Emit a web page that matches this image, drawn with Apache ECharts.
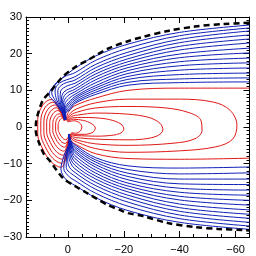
<!DOCTYPE html>
<html><head><meta charset="utf-8">
<script src="https://cdn.jsdelivr.net/npm/echarts@6/dist/echarts.min.js"></script>
<style>html,body{margin:0;padding:0;background:#fff}#c{width:256px;height:256px}</style>
</head><body><div id="c"></div>
<script>
// Axis tick labels
const xTickLabels = [0, -20, -40, -60];
const yTickLabels = [-30, -20, -10, 0, 10, 20, 30];

// Magnetopause (dashed black)
const magnetopause = [[-65,28.4],[-56,28.1],[-45.5,27.4],[-35.8,26.2],[-27,24.6],[-21.5,23.4],[-14.3,21.4],[-10.4,19.7],[-6.8,18.1],[-2.5,16.3],[2,13.6],[6.4,9.5],[8.9,7.4],[10.3,4.6],[11.4,1.4],[11.5,-1],[10.3,-4.4],[8.5,-7.5],[6.4,-9.3],[1.8,-13.9],[-2.5,-16.1],[-6.8,-18],[-10.4,-19.6],[-14.3,-21.3],[-18.6,-22.6],[-21.5,-23.5],[-26.9,-24.3],[-35.8,-26.2],[-45.5,-27.3],[-53.7,-27.8],[-62.7,-28.1],[-65,-28.2]];

// Open field lines, northern lobe (blue)
const northLobe = [
 [[1.3,2.0],[2.2,4.0],[5.0,7.0],[6.8,8.8],[4.8,11.5],[2,13.4],[-2.5,16.0],[-10,19.4],[-21.5,22.6],[-40,25.8],[-65,27.8]],
 [[1.25,2.0],[2.0,4.0],[4.5,7.2],[5.8,9.3],[4.0,12.0],[1,13.8],[-2.5,14.8],[-10,18.2],[-21.5,21.5],[-40,24.9],[-65,27.0]],
 [[1.2,2.0],[1.9,4.0],[4.0,7.4],[4.6,9.8],[3.0,12.0],[-2.5,13.7],[-10,17.1],[-21.5,20.4],[-40,23.9],[-65,26.2]],
 [[1.15,2.0],[1.8,4.0],[3.4,7.5],[3.6,10.0],[1.5,11.8],[-2.5,12.8],[-10,16.2],[-21.5,19.5],[-40,23.0],[-65,25.1]],
 [[1.1,2.0],[1.7,4.0],[2.8,7.5],[2.6,9.8],[0,11.3],[-2.5,11.9],[-10,15.3],[-21.5,18.6],[-40,22.0],[-65,24.0]],
 [[1.05,2.0],[1.6,4.0],[2.3,7.3],[1.5,9.5],[-2.5,11.1],[-10,14.5],[-21.5,17.8],[-40,21.0],[-65,22.9]],
 [[1.0,2.0],[1.5,4.0],[1.9,7.0],[0.8,9.0],[-2.5,10.3],[-10,13.7],[-21.5,17.0],[-40,19.9],[-65,21.5]],
 [[0.95,2.0],[1.4,4.0],[1.5,6.6],[0.2,8.4],[-2.5,9.6],[-10,12.9],[-21.5,16.2],[-40,18.9],[-65,20.2]],
 [[0.9,2.0],[1.3,4.0],[1.1,6.2],[-0.4,7.8],[-2.5,8.9],[-10,12.1],[-21.5,15.4],[-40,17.8],[-65,18.8]],
 [[0.85,2.0],[1.2,4.0],[0.7,5.8],[-1,7.3],[-2.5,8.3],[-10,11.3],[-21.5,14.6],[-40,16.7],[-65,17.5]],
 [[0.8,2.0],[1.1,4.0],[0.3,5.6],[-2.5,7.8],[-10,10.7],[-21.5,13.8],[-40,15.5],[-65,16.1]],
 [[0.75,2.0],[1.0,3.9],[-0.1,5.3],[-2.5,7.3],[-10,10.1],[-21.5,13.0],[-40,14.3],[-65,14.7]],
 [[0.7,2.0],[0.9,3.8],[-0.5,5.0],[-2.5,6.8],[-10,9.5],[-21.5,12.2],[-40,13.1],[-65,13.4]],
 [[0.65,2.0],[0.8,3.7],[-0.9,4.8],[-2.5,6.4],[-10,8.9],[-21.5,11.4],[-40,12.1],[-65,12.3]]
];

// Open field lines, southern lobe (blue)
const southLobe = [
 [[-0.3,-2.0],[-0.4,-4.0],[1.5,-8],[2.5,-11.5],[0.5,-14.5],[-2.5,-15.9],[-10,-19.3],[-21.5,-22.8],[-40,-26.0],[-65,-27.9]],
 [[-0.32,-2.0],[-0.45,-4.0],[1.0,-8.2],[1.5,-11.3],[-0.5,-13.6],[-2.5,-14.6],[-10,-18.1],[-21.5,-21.6],[-40,-25.0],[-65,-27.0]],
 [[-0.34,-2.0],[-0.5,-4.0],[0.5,-8.2],[0.6,-11.0],[-2.5,-13.4],[-10,-17.0],[-21.5,-20.5],[-40,-24.0],[-65,-26.0]],
 [[-0.36,-2.0],[-0.55,-4.0],[0.1,-8.0],[-0.3,-10.6],[-2.5,-12.4],[-10,-16.0],[-21.5,-19.5],[-40,-23.0],[-65,-24.9]],
 [[-0.38,-2.0],[-0.6,-4.0],[-0.3,-7.8],[-1.1,-10.0],[-2.5,-11.4],[-10,-15.1],[-21.5,-18.6],[-40,-22.0],[-65,-23.8]],
 [[-0.4,-2.0],[-0.65,-4.0],[-0.7,-7.5],[-2.5,-10.4],[-10,-14.2],[-21.5,-17.7],[-40,-21.0],[-65,-22.6]],
 [[-0.42,-2.0],[-0.7,-4.0],[-1.0,-7.2],[-2.5,-9.5],[-10,-13.4],[-21.5,-16.9],[-40,-19.9],[-65,-21.3]],
 [[-0.44,-2.0],[-0.75,-4.0],[-1.3,-6.8],[-2.5,-8.6],[-10,-12.6],[-21.5,-16.1],[-40,-18.9],[-65,-20.0]],
 [[-0.46,-2.0],[-0.8,-4.0],[-1.6,-6.4],[-2.5,-7.8],[-10,-11.8],[-21.5,-15.3],[-40,-17.8],[-65,-18.6]],
 [[-0.48,-2.0],[-0.85,-4.0],[-1.9,-6.0],[-2.5,-7.0],[-10,-11.0],[-21.5,-14.4],[-40,-16.7],[-65,-17.2]],
 [[-0.5,-2.0],[-0.9,-4.0],[-2.5,-6.4],[-10,-10.3],[-21.5,-13.5],[-40,-15.5],[-65,-15.7]],
 [[-0.52,-2.0],[-0.95,-3.9],[-2.6,-5.9],[-10,-9.6],[-21.5,-12.6],[-40,-14.2],[-65,-14.2]],
 [[-0.54,-2.0],[-1.0,-3.8],[-2.8,-5.5],[-10,-9.0],[-21.5,-11.6],[-40,-12.8],[-65,-12.5]],
 [[-0.56,-2.0],[-1.05,-3.7],[-3.0,-5.1],[-10,-8.4],[-21.5,-10.6],[-40,-11.2],[-65,-10.9]]
];

// Closed field lines, dayside (red)
const closedDay = [
 [[1.4,1.8],[3,5],[6,7.5],[9,6],[10.8,2],[10.8,-2],[9,-6],[6,-9.5],[2.5,-11],[0.5,-8],[-0.4,-4],[-0.4,-2.2]],
 [[1.4,1.8],[2.7,4.5],[5.4,6.75],[8.1,5.4],[9.7,1.8],[9.7,-1.8],[8.1,-5.4],[5.4,-8.55],[2.25,-9.9],[0.45,-7.2],[-0.4,-3.8],[-0.4,-2.2]],
 [[1.35,1.8],[2.4,4.0],[4.8,6.0],[7.2,4.8],[8.6,1.6],[8.6,-1.6],[7.2,-4.8],[4.8,-7.6],[2.0,-8.8],[0.4,-6.4],[-0.4,-3.5],[-0.4,-2.2]],
 [[1.3,1.8],[2.1,3.5],[4.2,5.25],[6.3,4.2],[7.6,1.4],[7.6,-1.4],[6.3,-4.2],[4.2,-6.65],[1.75,-7.7],[0.35,-5.6],[-0.4,-3.2],[-0.4,-2.2]],
 [[1.3,1.8],[1.8,3.0],[3.6,4.5],[5.4,3.6],[6.5,1.2],[6.5,-1.2],[5.4,-3.6],[3.6,-5.7],[1.5,-6.6],[0.2,-4.8],[-0.4,-2.8],[-0.4,-2.2]],
 [[1.25,1.8],[2.9,3.6],[4.5,3.0],[5.4,1.0],[5.4,-1.0],[4.5,-3.0],[3.0,-4.75],[1.25,-5.5],[0,-4.0],[-0.4,-2.2]],
 [[1.2,1.8],[2.4,3.0],[3.7,2.5],[4.4,0.8],[4.4,-0.8],[3.7,-2.5],[2.5,-3.9],[1.0,-4.5],[-0.2,-3.3],[-0.4,-2.2]],
 [[1.1,1.8],[2.0,2.5],[2.9,1.9],[3.5,0.6],[3.5,-0.6],[2.9,-1.9],[1.9,-3.0],[0.7,-3.5],[-0.4,-2.2]]
];

// Closed field lines, nightside (red)
const closedNight = [
 [[0.7,2.0],[-0.3,4.2],[-2.5,5.8],[-10,7.9],[-21.5,10.0],[-40,10.6],[-65,10.6]],
 [[-0.6,-2.0],[-1.2,-3.8],[-3,-4.8],[-10,-7.3],[-21.5,-8.6],[-40,-8.8],[-65,-8.5]],
 [[0.55,1.9],[-0.8,3.7],[-3,4.9],[-10,6.6],[-21.5,7.6],[-40,7.6],[-52,6.8],[-58,4.6],[-60.5,0.5],[-59,-3.3],[-53,-5.4],[-40,-6.5],[-21.5,-6.9],[-10,-5.9],[-3.5,-4.2],[-1.5,-3.4],[-0.7,-2.0]],
 [[0.45,1.8],[-1.1,3.3],[-3.5,4.1],[-10,5.2],[-21.5,5.6],[-35,5.2],[-43,4.0],[-47.5,2],[-48,-1],[-45.5,-3.2],[-38,-4.4],[-21.5,-5.0],[-10,-4.6],[-4,-3.7],[-1.8,-3.1],[-0.8,-1.9]],
 [[0.35,1.7],[-1.4,2.9],[-4,3.3],[-10,3.8],[-21.5,3.5],[-29,2.6],[-33,1.0],[-34,-0.8],[-32,-2.4],[-27,-3.3],[-21.5,-3.5],[-10,-3.3],[-4.5,-3.0],[-2,-2.7],[-0.9,-1.85]],
 [[0.25,1.6],[-1.8,2.5],[-5,2.6],[-10,2.5],[-15,2.0],[-19,0.8],[-20,-0.6],[-18.5,-1.8],[-14,-2.4],[-10,-2.5],[-5,-2.4],[-2.2,-2.3],[-1,-1.8]],
 [[0.15,1.5],[-2,2.1],[-5.5,1.8],[-8.5,0.9],[-9.8,-0.3],[-9,-1.4],[-6,-2.0],[-2.6,-2.0],[-1.2,-1.7]],
 [[0.05,1.4],[-2.2,1.7],[-4.2,1.1],[-5,0],[-4.4,-1.1],[-2.7,-1.7],[-1.3,-1.55]]
];

const BLUE = '#1020b8', RED = '#e01818';
const series = [];
function addLines(arr, color) {
  arr.forEach(function (d) {
    series.push({type:'line', data:d, showSymbol:false, smooth:0.35, silent:true,
      lineStyle:{color:color, width:1}, xAxisIndex:0, yAxisIndex:0, z:2});
  });
}
addLines(closedDay, RED);
addLines(closedNight, RED);
addLines(northLobe, BLUE);
addLines(southLobe, BLUE);
series.push({type:'line', data:magnetopause, showSymbol:false, smooth:0.3, silent:true,
  lineStyle:{color:'#000', width:2.5, type:[6,4]}, xAxisIndex:0, yAxisIndex:0, z:3});

const fmt = function (v) { return String(v).replace('-', '\u2212'); };
const lblFont = {fontFamily:'Liberation Sans', fontSize:11, color:'#000'};
function xAx(pos, major, labels) {
  return {type:'value', inverse:true, min:-65, max:15, interval:5, position:pos,
    axisLine:{show:major, onZero:false, lineStyle:{color:'#000', width:1}},
    axisTick: major ? {show:true, inside:true, length:6, customValues:xTickLabels, lineStyle:{color:'#000'}}
                    : {show:true, inside:true, length:3, lineStyle:{color:'#000'}},
    axisLabel: labels ? Object.assign({show:true, margin:7, customValues:xTickLabels, formatter:fmt}, lblFont) : {show:false},
    splitLine:{show:false}};
}
function yAx(pos, labels) {
  return {type:'value', min:-30, max:30, interval:10, position:pos,
    axisLine:{show:true, onZero:false, lineStyle:{color:'#000', width:1}},
    axisTick:{show:true, inside:true, length:6, lineStyle:{color:'#000'}},
    minorTick:{show:true, splitNumber:10, length:3, lineStyle:{color:'#000'}},
    axisLabel: labels ? Object.assign({show:true, margin:4, customValues:yTickLabels, formatter:fmt}, lblFont) : {show:false},
    splitLine:{show:false}};
}
const option = {
  animation:false,
  backgroundColor:'#fff',
  grid:{left:26, right:6.5, top:17, bottom:19, containLabel:false},
  xAxis:[xAx('bottom', true, true), xAx('bottom', false, false), xAx('top', true, false), xAx('top', false, false)],
  yAxis:[yAx('left', true), yAx('right', false)],
  series:series
};
echarts.init(document.getElementById('c'), null, {renderer:'canvas'}).setOption(option);
</script></body></html>
